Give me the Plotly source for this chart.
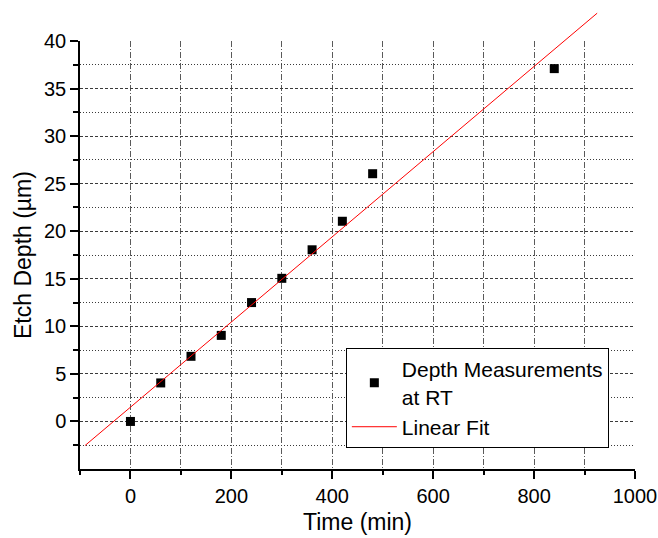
import plotly.graph_objects as go

# Etch depth measurements at room temperature
time_min = [0, 60, 120, 180, 240, 300, 360, 420, 480, 840]
depth_um = [0.0, 4.05, 6.85, 9.05, 12.5, 15.05, 18.05, 21.05, 26.05, 37.1]

# Linear fit, drawn between its two end points
fit_time = [-90, 925]
fit_depth = [-2.53, 42.93]

x_ticks = [0, 200, 400, 600, 800, 1000]
y_ticks = [0, 5, 10, 15, 20, 25, 30, 35, 40]

FONT = "Arial, Liberation Sans, sans-serif"
Y_RANGE = [-5, 40]
Y2_RANGE = [-5, 44]
y_dom_top = (Y_RANGE[1] - Y_RANGE[0]) / (Y2_RANGE[1] - Y2_RANGE[0])

V_GRID = "#5a5a5a"
H_GRID = "#3a3a3a"

fig = go.Figure()

fig.add_trace(go.Scatter(
    x=time_min, y=depth_um, mode="markers",
    name="Depth Measurements<br>at RT",
    marker=dict(symbol="square", size=9, color="black", line=dict(width=0)),
    xaxis="x", yaxis="y",
))

# The fit line lives on an overlay axis with a taller range so it can run past y=40
fig.add_trace(go.Scatter(
    x=fit_time, y=fit_depth, mode="lines",
    name="Linear Fit",
    line=dict(color="red", width=1),
    xaxis="x2", yaxis="y2",
))

fig.update_layout(
    width=658, height=538,
    margin=dict(l=80, r=23, t=3, b=69),
    paper_bgcolor="white", plot_bgcolor="rgba(0,0,0,0)",
    font=dict(family=FONT, size=20, color="black"),
    showlegend=True,
    legend=dict(
        x=0.479, y=0.2597, xanchor="left", yanchor="top",
        bgcolor="white", bordercolor="black", borderwidth=1,
        font=dict(family=FONT, size=21, color="black"),
        itemwidth=45, tracegroupgap=0,
    ),
    xaxis=dict(
        domain=[0, 1], range=[-100, 1000], automargin=False,
        tickvals=x_ticks, ticks="outside", ticklen=8, tickwidth=1.5, tickcolor="black",
        showline=True, linecolor="black", linewidth=1.5,
        showgrid=True, gridcolor=V_GRID, gridwidth=1, griddash="6px,2px,1px,2px",
        zeroline=False,
        minor=dict(tick0=-100, dtick=200, ticks="outside", ticklen=4, tickwidth=1.5,
                   tickcolor="black", showgrid=True, gridcolor=V_GRID,
                   gridwidth=1, griddash="6px,2px,1px,2px"),
        title=dict(text="Time (min)", font=dict(family=FONT, size=23), standoff=8),
        anchor="y",
    ),
    yaxis=dict(
        domain=[0, y_dom_top], range=Y_RANGE, automargin=False,
        tickvals=y_ticks, ticks="outside", ticklen=8, tickwidth=1.5, tickcolor="black",
        showline=True, linecolor="black", linewidth=1.5,
        showgrid=True, gridcolor=H_GRID, gridwidth=1, griddash="3px,2px",
        zeroline=False,
        minor=dict(tick0=-2.5, dtick=5, ticks="outside", ticklen=5, tickwidth=1.5,
                   tickcolor="black", showgrid=True, gridcolor=H_GRID,
                   gridwidth=1, griddash="1px,2px"),
        title=dict(text="Etch Depth (µm)", font=dict(family=FONT, size=23), standoff=6),
        anchor="x",
    ),
    xaxis2=dict(domain=[0, 1], range=[-100, 1000], overlaying="x", visible=False,
                anchor="y2", automargin=False),
    yaxis2=dict(domain=[0, 1], range=Y2_RANGE, visible=False, anchor="x2",
                automargin=False),
)

fig.write_html("out.html")
